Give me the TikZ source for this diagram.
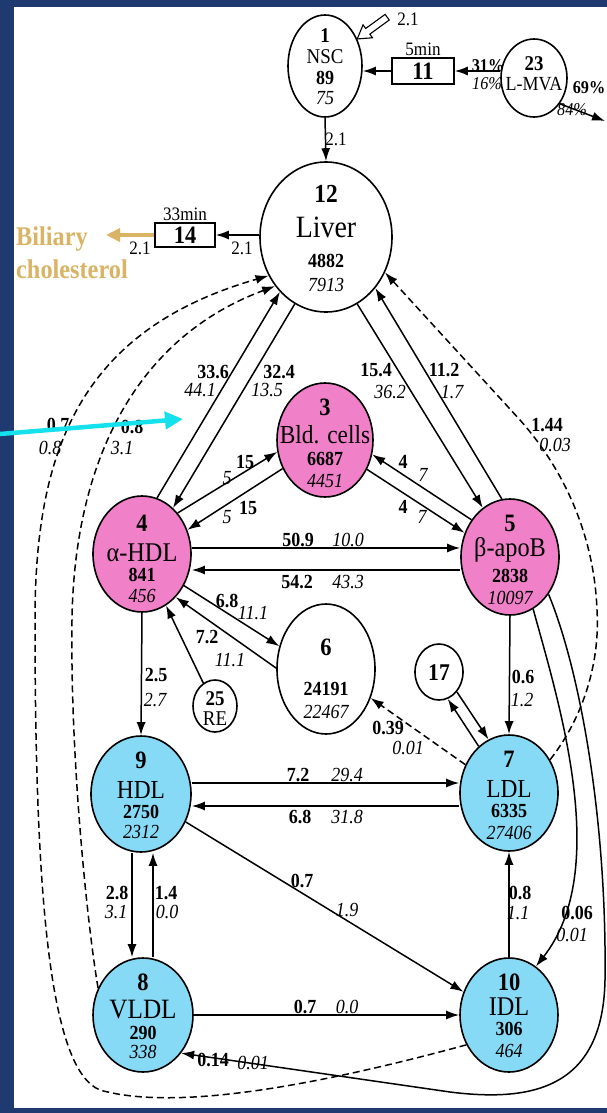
\documentclass[tikz,border=0pt]{standalone}
\usepackage{fontspec}
\setmainfont{Liberation Serif}[FakeStretch=0.9]
\usetikzlibrary{arrows.meta,positioning,shapes.geometric}
\definecolor{KinNavy}{RGB}{31,58,112}
\definecolor{KinPink}{RGB}{240,128,200}
\definecolor{KinBlue}{RGB}{135,218,245}
\definecolor{KinTan}{RGB}{216,180,100}
\definecolor{KinCyan}{RGB}{20,225,235}
% text of a pool, kept out of the ellipse size
\newcommand{\pooltext}[2][-4.5pt]{\makebox[0pt]{\raisebox{#1}[0pt][0pt]{\parbox[c]{5cm}{\centering #2}}}}
\newcommand{\pnum}[1][25]{\fontsize{#1}{#1}\selectfont\bfseries\upshape}
\newcommand{\pname}[2]{\fontsize{#1}{#2}\selectfont\mdseries\upshape}
\newcommand{\pval}[1][21]{\fontsize{20}{#1}\selectfont\bfseries\upshape}
\newcommand{\pvar}[1][21]{\fontsize{20}{#1}\selectfont\mdseries\itshape}
\tikzset{
  kin/pool/.style={ellipse, draw, line width=1.6pt, fill=white, inner sep=0pt},
  kin/apo/.style={kin/pool, fill=KinPink},
  kin/lipo/.style={kin/pool, fill=KinBlue},
  kin/delaybox/.style={rectangle, draw, line width=1.5pt, fill=white, inner sep=0pt,
    font=\fontsize{25}{25}\selectfont\bfseries},
  kin/flow/.style={line width=1.5pt, -{Latex[length=13pt,width=9pt]}},
  kin/minorflow/.style={kin/flow, dash pattern=on 7pt off 4pt},
  kin/bileflow/.style={line width=4pt, draw=KinTan, -{Triangle[length=14pt,width=13pt]}},
  kin/pointer/.style={line width=4.5pt, draw=KinCyan, -{Triangle[length=18pt,width=17pt]}},
  kin/rate/.style={inner sep=0pt, font=\fontsize{19}{19}\selectfont},
  kin/fluxb/.style={inner sep=0pt, font=\fontsize{20}{20}\selectfont\bfseries},
  kin/fluxi/.style={inner sep=0pt, font=\fontsize{20}{20}\selectfont\itshape},
  kin/pctb/.style={inner sep=0pt, font=\fontsize{18}{18}\selectfont\bfseries},
  kin/pcti/.style={inner sep=0pt, font=\fontsize{18}{18}\selectfont\itshape},
  kin/biletext/.style={inner sep=0pt, text width=140pt, align=left, text=KinTan,
    font=\fontsize{27}{33}\selectfont\bfseries}
}
\begin{document}
\begin{tikzpicture}[x=1pt,y=-1pt]
  \useasboundingbox (0,0) rectangle (607,1113);
  \fill[KinNavy] (0,0) rectangle (607,1113);
  \fill[white] (14,7) rectangle (607,1108);

  % pools
  \node[kin/pool, minimum width=74pt, minimum height=102pt] (nsc) at (325,66)
    {\pooltext[-3pt]{\pnum[21] 1\\ \pname{21}{21}NSC\\ \pval[21]89\\ \pvar[20]75}};
  \node[kin/pool, minimum width=66pt, minimum height=78pt] (lmva) at (534,78)
    {\pooltext[2pt]{\pnum[21] 23\\ \pname{20}{20}L-MVA}};
  \node[kin/delaybox, minimum width=62pt, minimum height=26pt] (box11) at (423,71) {11};
  \node[kin/rate, above=1.5pt of box11] (t11) {5min};
  \node[kin/pool, minimum width=132pt, minimum height=150pt] (liver) at (326,237)
    {\pooltext[-4pt]{\pnum[26] 12\\ \pname{31}{35}Liver\\ \pval[30]4882\\ \pvar[24]7913}};
  \node[kin/delaybox, minimum width=60pt, minimum height=24pt] (box14) at (185,235) {14};
  \node[kin/rate, above=1.5pt of box14] (t14) {33min};
  \node[kin/biletext, anchor=north west] (biletxt) at (16,227) {Biliary\\cholesterol};
  \node[kin/apo, minimum width=96pt, minimum height=114pt] (bld) at (325,440)
    {\pooltext[-6pt]{\pnum 3\\ \pname{26}{28}Bld. cells\\ \pval[22]6687\\ \pvar[22]4451}};
  \node[kin/apo, minimum width=98pt, minimum height=116pt] (hdla) at (142,554)
    {\pooltext[-7.5pt]{\pnum 4\\ \pname{27}{30}α-HDL\\ \pval[20]841\\ \pvar[21]456}};
  \node[kin/apo, minimum width=98pt, minimum height=116pt] (apob) at (510,557)
    {\pooltext[-5.5pt]{\pnum 5\\ \pname{27}{25}β-apoB\\ \pval[26]2838\\ \pvar[22]10097}};
  \node[kin/pool, minimum width=98pt, minimum height=130pt] (six) at (326,669)
    {\pooltext[-12.5pt]{\pnum 6\\ \pval[40]24191\\ \pvar[23]22467}};
  \node[kin/pool, minimum width=44pt, minimum height=52pt] (re) at (215,706)
    {\pooltext[-5pt]{\pnum[21] 25\\ \pname{21}{20}RE}};
  \node[kin/pool, minimum width=48pt, minimum height=56pt] (c17) at (439,672)
    {\pooltext[-3pt]{\pnum[24] 17}};
  \node[kin/lipo, minimum width=100pt, minimum height=116pt] (hdl) at (141,794)
    {\pooltext[-3.5pt]{\pnum 9\\ \pname{26}{30}HDL\\ \pval[20]2750\\ \pvar[20]2312}};
  \node[kin/lipo, minimum width=98pt, minimum height=116pt] (ldl) at (509,793)
    {\pooltext{\pnum 7\\ \pname{26}{30}LDL\\ \pval[20]6335\\ \pvar[22]27406}};
  \node[kin/lipo, minimum width=100pt, minimum height=114pt] (vldl) at (143,1015)
    {\pooltext[-3.5pt]{\pnum 8\\ \pname{28}{28}VLDL\\ \pval[21]290\\ \pvar[19]338}};
  \node[kin/lipo, minimum width=98pt, minimum height=114pt] (idl) at (509,1015)
    {\pooltext[-3pt]{\pnum 10\\ \pname{27}{25}IDL\\ \pval[20]306\\ \pvar[22]464}};

  \coordinate (out) at (605,121);
  \coordinate (bile) at (106,235);
  \coordinate (cy0) at (0,434);
  \coordinate (cy1) at (183,419);

  % input to NSC
  \begin{scope}[shift={(nsc.40)}, rotate=216]
    \draw[line width=1.1pt, fill=white] (0,0) -- (-13,8) -- (-13,3.5) -- (-37,3.5)
      -- (-37,-3.5) -- (-13,-3.5) -- (-13,-8) -- cycle;
  \end{scope}

  % solid flows
  \draw[kin/flow] (box11.west) -- (box11.west -| nsc.east);
  \draw[kin/flow] (box11.east -| lmva.west) -- (box11.east);
  \draw[kin/flow] (lmva.315) -- (out);
  \draw[kin/flow] (nsc.south) -- (liver.north);
  \draw[kin/flow] (liver.west |- box14.east) -- (box14.east);
  \draw[kin/bileflow] (box14.west) -- (bile);
  \draw[kin/flow] (hdla.75) -- (liver.230);
  \draw[kin/flow] (liver.245) -- (hdla.56);
  \draw[kin/flow] (liver.295) -- (apob.119);
  \draw[kin/flow] (apob.98) -- (liver.314);
  \draw[kin/flow] (hdla.49) -- (bld.194);
  \draw[kin/flow] (bld.214) -- (hdla.28);
  \draw[kin/flow] (apob.136) -- (bld.343);
  \draw[kin/flow] (bld.325) -- (apob.152);
  \draw[kin/flow] (hdla.east |- 0,548) -- (apob.west |- 0,548);
  \draw[kin/flow] (apob.west |- 0,570) -- (hdla.east |- 0,570);
  \draw[kin/flow] (hdla.323) -- (six.154);
  \draw[kin/flow] (six.179) -- (hdla.308);
  \draw[kin/flow] (re.117) -- (hdla.295);
  \draw[kin/flow] (hdla.south) -- (hdl.north);
  \draw[kin/flow] (apob.south) -- (ldl.north);
  \draw[kin/flow] (c17.312) -- (ldl.111);
  \draw[kin/flow] (ldl.123) -- (c17.288);
  \draw[kin/flow] (hdl.east |- 0,783) -- (ldl.west |- 0,783);
  \draw[kin/flow] (ldl.west |- 0,806) -- (hdl.east |- 0,806);
  \draw[kin/flow] (hdl.328) -- (idl.153);
  \draw[kin/flow] (hdl.south -| 132,0) -- (vldl.north -| 132,0);
  \draw[kin/flow] (vldl.north -| 153,0) -- (hdl.south -| 153,0);
  \draw[kin/flow] (vldl.east) -- (idl.west);
  \draw[kin/flow] (idl.north) -- (ldl.south);
  \draw[kin/flow] (apob.294) .. controls (558,700) and (612,870) .. (idl.61);
  \draw[kin/flow] (apob.316) .. controls (580,670) and (607,820) .. (605,980)
    .. controls (603,1090) and (530,1102) .. (450,1092) -- (vldl.315);

  % dashed flows
  \draw[kin/minorflow] (ldl.147) -- (six.327);
  \draw[kin/minorflow] (ldl.39) .. controls (585,715) and (600,660) .. (597,610)
    .. controls (594,530) and (560,465) .. (520,420) -- (liver.329);
  \draw[kin/minorflow] (idl.215) .. controls (300,1090) and (170,1110) .. (100,1090)
    .. controls (50,1070) and (35,900) .. (35,620)
    .. controls (35,450) and (80,330) .. (liver.214);
  \draw[kin/minorflow] (vldl.149) .. controls (88,930) and (70,760) .. (72,620)
    .. controls (74,470) and (130,340) .. (liver.224);

  % rates
  \node[kin/rate] (r1) at (408,19) {2.1};
  \node[kin/rate] (r2) at (336,139) {2.1};
  \node[kin/rate] (r3) at (242,248) {2.1};
  \node[kin/rate] (r4) at (140,248) {2.1};
  \node[kin/pctb] (p31) at (488,66) {31\%};
  \node[kin/pcti] (p16) at (487,84) {16\%};
  \node[kin/pctb] (p69) at (589,88) {69\%};
  \node[kin/pcti] (p84) at (572,110) {84\%};
  \foreach \x/\y/\lab [count=\i] in {213/372/33.6, 279/372/32.4, 376/370/15.4,
      444/370/11.2, 547/425/1.44, 58/425/0.7, 132/427/0.8, 245/462/15, 248/508/15,
      403/462/4, 403/507/4, 298/540/50.9, 297/582/54.2, 227/601/6.8, 207/637/7.2,
      156/675/2.5, 523/677/0.6, 388/728/0.39, 298/775/7.2, 300/817/6.8, 302/881/0.7,
      117/893/2.8, 166/893/1.4, 520/893/0.8, 577/913/0.06, 305/1007/0.7, 213/1060/0.14}
    \node[kin/fluxb] (fb\i) at (\x,\y) {\lab};
  \foreach \x/\y/\lab [count=\i] in {200/390/44.1, 267/390/13.5, 390/392/36.2,
      452/392/1.7, 555/445/0.03, 50/448/0.8, 122/448/3.1, 227/478/5, 227/517/5,
      423/475/7, 422/517/7, 348/540/10.0, 348/582/43.3, 253/613/11.1, 230/660/11.1,
      155/700/2.7, 522/700/1.2, 408/748/0.01, 347/775/29.4, 347/817/31.8, 347/910/1.9,
      116/912/3.1, 167/912/0.0, 518/913/1.1, 572/935/0.01, 347/1007/0.0, 253/1063/0.01}
    \node[kin/fluxi] (fi\i) at (\x,\y) {\lab};

  % pointer
  \draw[kin/pointer] (cy0) -- (cy1);
\end{tikzpicture}
\end{document}
